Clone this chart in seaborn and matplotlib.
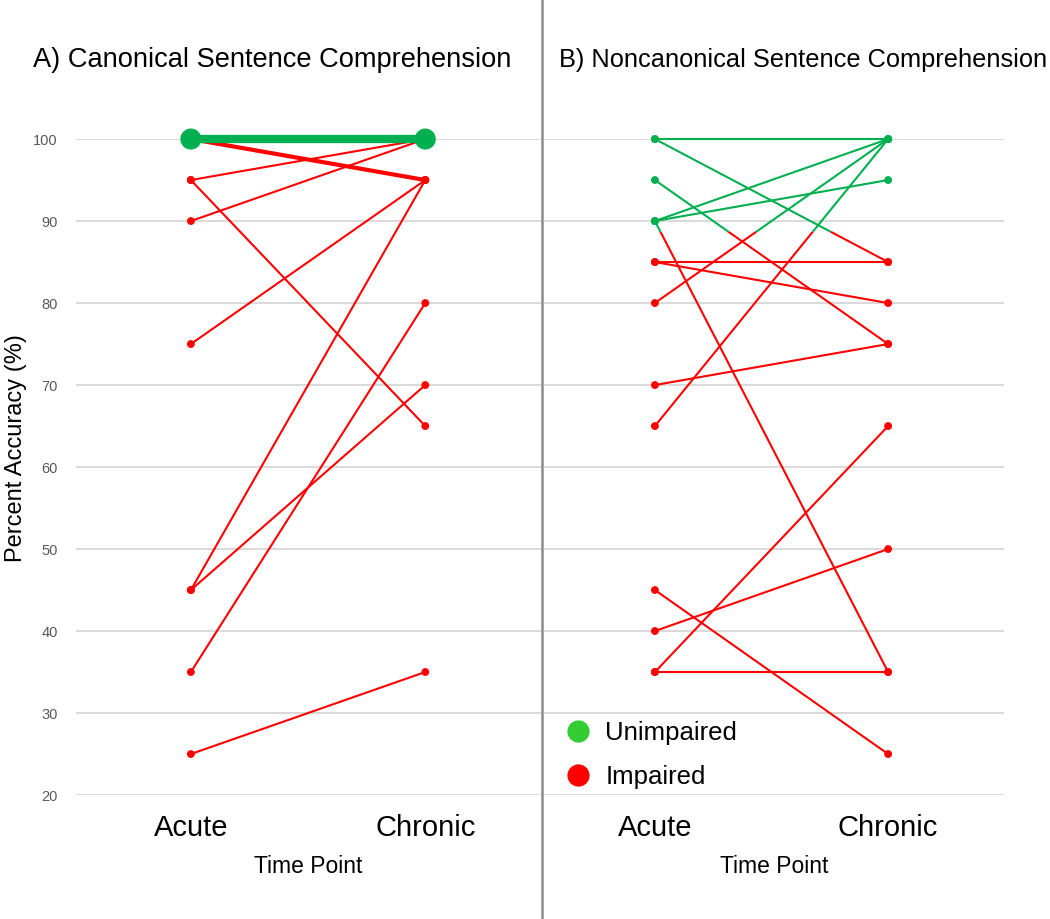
import numpy as np
import pandas as pd
import matplotlib.pyplot as plt
from matplotlib.lines import Line2D
import seaborn as sns

# Scores per participant path: acute -> chronic (percent accuracy)
time_points = ["Acute", "Chronic"]

# A) canonical sentences; n = participants sharing the same path
canon_acute = [100, 100, 95, 90, 95, 75, 45, 45, 35, 25]
canon_chronic = [100, 95, 100, 100, 65, 95, 95, 70, 80, 35]
canon_n = [4, 2, 1, 1, 1, 1, 1, 1, 1, 1]
canon_cutoff = 100

# B) noncanonical sentences
noncanon_acute = [100, 100, 95, 90, 90, 90, 85, 85, 80, 70, 65, 45, 40, 35, 35]
noncanon_chronic = [100, 85, 75, 100, 95, 35, 85, 80, 100, 75, 100, 25, 50, 35, 65]
noncanon_n = [1] * 15
noncanon_cutoff = 88.7

legend_labels = ["Unimpaired", "Impaired"]

GREEN = "#00B050"
RED = "#FF0000"

sns.set_theme(style="white")
plt.rcParams["font.family"] = ["Liberation Sans", "DejaVu Sans"]
plt.rcParams["text.color"] = "black"
plt.rcParams["axes.labelcolor"] = "black"


def draw_panel(ax, acute, chronic, counts, cutoff):
    df = pd.DataFrame({"acute": acute, "chronic": chronic, "n": counts})

    # lines, split where they cross the impairment cutoff
    for _, r in df.iterrows():
        a, c, n = r["acute"], r["chronic"], r["n"]
        if (a - cutoff) * (c - cutoff) < 0:
            xc = (cutoff - a) / (c - a)
            pieces = [([0, xc], [a, cutoff]), ([xc, 1], [cutoff, c])]
        else:
            pieces = [([0, 1], [a, c])]
        for px, py in pieces:
            green = np.mean(py) >= cutoff
            ax.plot(px, py, color=GREEN if green else RED, lw=1.5 * n,
                    solid_capstyle="butt", zorder=3 if green else 2,
                    clip_on=False)

    # points
    pts = pd.DataFrame({
        "time": [0] * len(df) + [1] * len(df),
        "score": list(df["acute"]) + list(df["chronic"]),
        "big": list(df["n"] >= 3) * 2,
    })
    pts["status"] = np.where(pts["score"] >= cutoff, "Unimpaired", "Impaired")
    pts = pts.sort_values("big")
    sns.scatterplot(data=pts, x="time", y="score", hue="status",
                    palette={"Unimpaired": GREEN, "Impaired": RED},
                    size="big", sizes={True: 230, False: 32},
                    linewidth=0, legend=False, ax=ax, zorder=4, clip_on=False)

    ax.set_ylim(20, 100)
    ax.set_yticks(range(20, 101, 10))
    ax.set_xticks([0, 1], time_points)
    ax.grid(axis="y", color="#D9D9D9", lw=1.4)
    ax.grid(axis="x", visible=False)
    sns.despine(ax=ax, left=True, bottom=True)
    ax.tick_params(length=0)
    ax.tick_params(axis="x", labelsize=21, pad=14, colors="black")
    ax.tick_params(axis="y", labelsize=10.5, pad=13, colors="#595959")
    ax.set_xlabel("Time Point", fontsize=16.5, labelpad=9, color="black")
    ax.set_ylabel("")


fig = plt.figure(figsize=(10.5, 9.19), dpi=100)
ax_a = fig.add_axes([0.0724, 0.1349, 0.4429, 0.7138])
ax_b = fig.add_axes([0.518, 0.1349, 0.438, 0.7138])

draw_panel(ax_a, canon_acute, canon_chronic, canon_n, canon_cutoff)
draw_panel(ax_b, noncanon_acute, noncanon_chronic, noncanon_n, noncanon_cutoff)
ax_a.set_xlim(-0.49, 1.494)
ax_b.set_xlim(-0.476, 1.496)
ax_b.tick_params(axis="y", labelleft=False)

fig.text(33 / 1050, 1 - 60 / 919, "A) Canonical Sentence Comprehension",
         fontsize=19.6, va="center", ha="left", color="black")
fig.text(559 / 1050, 1 - 60 / 919, "B) Noncanonical Sentence Comprehension",
         fontsize=18.3, va="center", ha="left", color="black")
fig.text(16 / 1050, 1 - 448 / 919, "Percent Accuracy (%)", fontsize=17,
         rotation=90, va="center", ha="center", color="black")

# divider between the panels
fig.add_artist(Line2D([542 / 1050] * 2, [0, 1], transform=fig.transFigure,
                      color="#8C8C8C", lw=1.8))

handles = [Line2D([], [], marker="o", ls="", markersize=16,
                  markerfacecolor=c, markeredgewidth=0)
           for c in ["#33CC33", "#FF0000"]]
ax_b.legend(handles, legend_labels, loc="center left", frameon=False,
            fontsize=18.5, handletextpad=0.45, handlelength=1.2,
            labelspacing=0.75, borderaxespad=0, borderpad=0,
            bbox_to_anchor=(563 / 1050, 1 - 755 / 919),
            bbox_transform=fig.transFigure)

fig.savefig("out.png", dpi=100)
